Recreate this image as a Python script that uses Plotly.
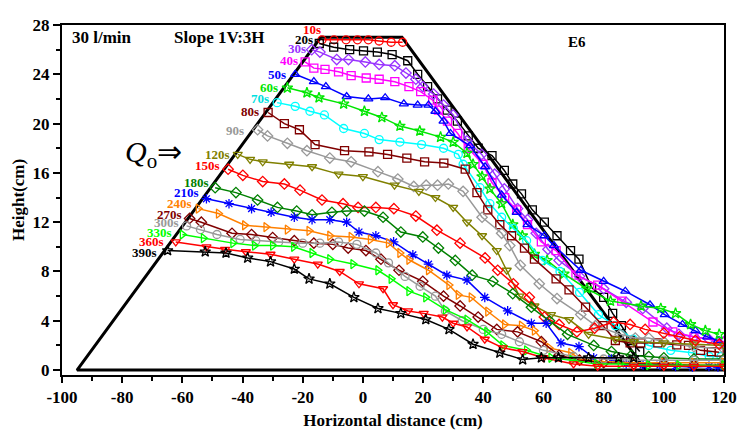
import plotly.graph_objects as go

# ---- embankment outline ----
emb_x = [120, -95, -14, 13, 94]
emb_y = [0, 0, 27, 27, 0]

# ---- profiles ----
x_10s = [-13.6, -9.6, -5.6, -1.8, 1.8, 5.4, 9.4, 13.2]
y_10s = [26.8, 26.8, 26.8, 26.8, 26.8, 26.7, 26.6, 26.6]

x_20s = [-14.5, -9.7, -4.4, 0.2, 4.8, 9.7, 14.9, 18.2, 21.5, 24.8, 28, 31.4, 35, 38.3, 42.9, 47, 49.8, 52.7,
         56.3, 60.3, 64.5, 69, 71.8, 76, 80, 83, 85.9, 89, 92]
y_20s = [26.5, 26.2, 26.0, 25.9, 25.8, 25.6, 25.1, 24.0, 23.0, 22.0, 21.1, 20.2, 19.0, 18.0, 17.4, 16.2, 15.1, 14.3,
         13.0, 12.0, 10.9, 9.7, 9.0, 6.7, 5.9, 4.6, 3.6, 2.4, 1.5]

x_30s = [-17, -14.3, -8.7, -4.8, 0.8, 5.4, 10.6, 14.3, 17.6, 19.9, 23.5, 26.8, 30, 34.6, 39.5, 43.8, 47, 51.4, 54.7,
         57.6, 61.5, 65.2, 72, 80, 87.5, 93, 101, 105, 110, 115, 120]
y_30s = [26.0, 25.8, 25.2, 25.2, 25.0, 24.8, 24.7, 24.1, 23.6, 23.0, 22.4, 21.5, 20.7, 18.6, 17.5, 15.9, 14.7, 13.1,
         12.2, 11.1, 9.8, 8.9, 7.6, 6.6, 5.5, 5.0, 3.4, 2.9, 2.7, 2.5, 2.3]

x_40s = [-19.2, -16.3, -12.6, -8.1, -3.9, 1.1, 5.4, 10.6, 15.3, 19.2, 23.2, 25.1, 28.1, 31.5, 35, 39.9, 42.9, 47.1,
         51.1, 54.7, 59.3, 64.2, 70.8, 78, 86, 96.4, 103, 110, 120]
y_40s = [25.0, 24.5, 24.4, 24.2, 23.9, 23.7, 23.6, 23.4, 23.0, 22.6, 21.9, 21.1, 20.2, 19.2, 18.0, 16.7, 15.2, 14.0,
         13.0, 11.8, 10.4, 9.7, 7.7, 6.9, 5.6, 3.9, 3.1, 2.7, 2.3]

x_50s = [-22.5, -16.3, -12.3, -5.4, 1.8, 7.4, 13.6, 18.2, 21.8, 24.1, 26.8, 29.1, 35.6, 40.6, 46.1, 51.1, 54.7, 60.3,
         63.5, 72.4, 80, 87.2, 95.4, 100.3, 106.2, 110.5, 114.4, 118]
y_50s = [24.0, 23.4, 23.0, 22.2, 22.0, 22.1, 21.6, 21.5, 21.5, 21.0, 20.2, 19.2, 18.2, 16.5, 14.2, 12.8, 11.8, 10.9,
         10.1, 8.1, 7.2, 6.4, 5.3, 4.5, 3.7, 3.2, 2.7, 2.4]

x_60s = [-25.1, -18.6, -14.6, -6.4, 0.5, 6.3, 12.3, 18.9, 25.8, 30, 34.6, 36.6, 39.6, 42.2, 46.1, 49.8, 53, 57, 61.2,
         66.8, 74.4, 82.3, 92.4, 99, 103.9, 108.9, 113.8, 118.4]
y_60s = [22.9, 22.5, 22.1, 21.6, 21.0, 20.5, 19.8, 19.4, 18.9, 18.5, 17.6, 16.7, 15.7, 14.7, 13.5, 11.8, 10.9, 9.4, 8.9,
         7.8, 6.6, 5.6, 5.2, 5.0, 4.6, 3.7, 3.2, 2.9]

x_70s = [-28.5, -22.5, -17.6, -12.8, -6.4, 0.5, 5.4, 12.3, 19.5, 26.8, 31.7, 33.3, 38.9, 42.2, 46.1, 50, 54.4, 59.6,
         65.5, 72, 78.3, 83.9, 89.8, 95, 102.3, 109.5, 115.1, 119]
y_70s = [21.7, 21.4, 21.0, 20.7, 19.6, 19.2, 18.7, 18.5, 18.3, 18.0, 17.5, 16.7, 14.8, 13.5, 12.4, 11.5, 10.5, 8.9,
         8.0, 6.3, 4.5, 3.6, 2.5, 2.0, 1.6, 1.4, 1.1, 1.1]

x_80s = [-31.5, -26.1, -21.1, -15.9, -6.1, 2, 8.2, 14.6, 20.5, 26.9, 34, 37.9, 41.5, 45.5, 49.4, 53.7, 57, 64.2, 68.5,
         74, 79.8, 83.9, 88.8, 92.3, 98, 104.3, 108.2, 112.2, 115.8, 118.4]
y_80s = [20.9, 20.0, 19.5, 18.3, 17.8, 17.7, 17.5, 17.2, 16.9, 16.8, 16.3, 14.4, 13.0, 11.8, 10.9, 9.9, 9.0, 7.4, 6.5,
         5.1, 3.6, 2.4, 2.2, 2.2, 2.2, 2.05, 2.0, 1.6, 1.5, 1.45]

x_90s = [-35, -31.7, -25.1, -18.6, -11, -3.9, 5, 11.6, 16.9, 21, 24.8, 28.4, 33.3, 39.6, 46.1, 48.8, 52.3, 58.6, 64.5,
         72.4, 77.3, 85.5, 90.5, 95, 100, 110, 120]
y_90s = [19.5, 19.0, 18.4, 17.8, 17.2, 16.9, 16.1, 15.5, 14.9, 15.0, 15.0, 15.1, 14.5, 12.4, 11.1, 10.1, 8.5, 7.0, 5.8,
         4.5, 3.6, 2.9, 2.6, 2.6, 2.3, 1.9, 1.7]

x_120s = [-41.6, -37.5, -33.3, -24.5, -16.9, -8.1, 0, 10.5, 18.6, 24.1, 30, 34.6, 39.6, 44.5, 47.8, 52, 57, 62.5, 68.5,
          75, 83.9, 90, 100, 110, 120]
y_120s = [17.5, 17.1, 16.9, 16.7, 16.5, 15.9, 15.7, 15.0, 14.5, 14.0, 13.2, 12.0, 10.9, 9.7, 8.1, 6.0, 5.2, 4.5, 4.1,
          2.9, 2.5, 2.3, 2.2, 2.1, 2.0]

x_150s = [-44.8, -39.9, -33.3, -26.1, -20.9, -13.6, -6.6, -1.6, 4.3, 10.3, 17.6, 24.6, 32.3, 40.6, 44.8, 50, 55.3,
          60.3, 65.2, 71.1, 77, 83.3, 88.8, 93.8, 100, 105.2, 110.5, 118.4]
y_150s = [16.3, 15.8, 15.3, 15.1, 14.6, 13.8, 13.5, 13.2, 13.2, 13.1, 12.5, 11.35, 10.3, 9.1, 8.1, 7.0, 5.9, 4.3, 3.7,
          3.1, 3.4, 3.9, 3.7, 3.3, 3.0, 2.7, 2.4, 2.1]

x_180s = [-49.1, -42.2, -35, -28.4, -22, -16.9, -10.3, -5.4, 0.5, 6.7, 12.6, 19.9, 25.1, 30.7, 36.3, 43.2, 49.8, 56,
          62, 68, 76.7, 82.6, 89.2, 95, 100, 110, 120]
y_180s = [14.8, 14.4, 13.8, 13.2, 12.9, 12.6, 12.8, 12.9, 12.9, 12.4, 11.2, 10.8, 9.9, 8.9, 7.7, 7.2, 6.2, 5.1, 4.0,
          2.9, 2.0, 1.5, 1.2, 1.1, 1.0, 0.9, 0.9]

x_210s = [-52, -44.5, -37, -30.5, -22.8, -16.9, -11, -5.4, -1.3, 4.3, 10.2, 16.6, 21.8, 27.9, 34.6, 40.5, 48.1, 56,
          60.9, 65.8, 71.8, 76.7, 82.6, 87.5, 93.1, 98.7, 103.9, 109.5, 115, 118]
y_210s = [13.9, 13.5, 13.1, 12.8, 12.4, 12.2, 12.2, 12.0, 11.2, 10.9, 10.4, 9.35, 8.6, 7.7, 7.3, 5.9, 4.8, 3.8, 3.8,
          2.2, 1.9, 1.0, 0.9, 0.5, 0.4, 0.4, 0.3, 0.25, 0.3, 0.25]

x_240s = [-54.7, -48, -39.3, -32.2, -25.1, -17.9, -11, -3.9, 2.5, 8.5, 12.3, 15.3, 21.8, 28.6, 31.7, 36, 41.5, 47.1,
          52.7, 57, 61.9, 69.1, 72.4, 80, 90, 100, 110, 120]
y_240s = [13.1, 12.7, 11.75, 11.6, 11.4, 11.3, 10.9, 10.8, 10.6, 10.3, 9.5, 8.95, 8.1, 6.9, 6.1, 5.9, 4.75, 3.7, 3.6,
          3.2, 1.8, 1.4, 0.85, 0.7, 0.6, 0.6, 0.6, 0.6]

x_270s = [-57.6, -53.7, -43.5, -37, -30, -22.8, -16.3, -10, -4.9, 1, 6, 12, 19.9, 26.8, 32.3, 38.3, 44.5, 51.4, 59.3,
          65.2, 72, 80, 90, 100, 110, 120]
y_270s = [12.3, 12.0, 11.1, 11.0, 10.75, 10.5, 10.3, 10.2, 9.9, 9.7, 9.0, 8.1, 7.2, 6.0, 5.2, 4.3, 3.3, 3.1, 2.3, 1.2,
          0.8, 0.6, 0.5, 0.5, 0.4, 0.4]

x_300s = [-58.6, -54, -48.5, -40.8, -35.6, -28, -20, -14.3, -8.1, -2, 4.3, 8.5, 14, 19, 24.1, 27.4, 33, 40, 46.1, 52,
          60, 70, 80, 90, 100, 110, 120]
y_300s = [11.7, 11.4, 11.0, 10.6, 10.5, 10.4, 10.3, 10.3, 10.4, 10.2, 9.5, 8.7, 7.6, 6.8, 6.0, 4.8, 4.0, 3.3, 2.9, 2.3,
          1.6, 1.1, 0.9, 0.8, 0.8, 0.8, 0.8]

x_330s = [-60, -53, -43.2, -36, -30, -23, -16.9, -11, -3.3, 5, 9.4, 15.3, 20.9, 27.4, 34.6, 41.2, 46.5, 54.4, 62.5,
          69.5, 77.7, 85.5, 95, 105, 120]
y_330s = [11.0, 10.7, 10.3, 10.1, 10.1, 10.0, 9.5, 9.0, 8.6, 8.1, 7.4, 6.4, 5.9, 4.9, 4.1, 3.1, 2.0, 1.6, 1.0, 0.8,
          0.5, 0.5, 0.4, 0.4, 0.4]

x_360s = [-62.2, -52, -45.8, -38.9, -30.7, -22.8, -15, -7.7, -1.3, 6.7, 10, 15, 20.2, 26.4, 30, 34.6, 40.5, 46.5, 53,
          60, 70, 78, 90, 100, 110, 120]
y_360s = [10.4, 10.0, 9.8, 9.6, 9.4, 9.0, 8.6, 8.0, 7.0, 6.6, 5.3, 4.8, 4.6, 4.3, 3.8, 3.5, 2.5, 1.8, 1.5, 1.0, 0.5,
          0.3, 0.3, 0.3, 0.3, 0.3]

x_390s = [-64.9, -52.4, -45.5, -38.3, -30.7, -22.8, -17.9, -11, -3, 5, 12.6, 20.9, 28.6, 36.6, 45.5, 53.1, 59.3, 65,
          75, 85, 90]
y_390s = [9.7, 9.6, 9.5, 9.1, 8.8, 8.2, 7.4, 7.0, 5.9, 5.0, 4.6, 4.1, 3.3, 2.1, 1.4, 0.85, 1.0, 1.0, 1.0, 1.0, 1.0]

times = ["10s", "20s", "30s", "40s", "50s", "60s", "70s", "80s", "90s", "120s", "150s", "180s", "210s", "240s",
         "270s", "300s", "330s", "360s", "390s"]
xs = [x_10s, x_20s, x_30s, x_40s, x_50s, x_60s, x_70s, x_80s, x_90s, x_120s, x_150s, x_180s, x_210s, x_240s,
      x_270s, x_300s, x_330s, x_360s, x_390s]
ys = [y_10s, y_20s, y_30s, y_40s, y_50s, y_60s, y_70s, y_80s, y_90s, y_120s, y_150s, y_180s, y_210s, y_240s,
      y_270s, y_300s, y_330s, y_360s, y_390s]
colors = ["#ff0000", "#000000", "#9933ff", "#ff00ff", "#0000ff", "#00e600", "#00ffff", "#800000", "#999999",
          "#808000", "#ff0000", "#008000", "#0000ff", "#ff8000", "#800000", "#999999", "#00ff00", "#ff0000", "#000000"]
symbols = ["circle-open", "square-open", "diamond-open", "square-open", "triangle-up-open", "star-open",
           "circle-open", "square-open", "diamond-open", "triangle-down-open", "diamond-open", "diamond-open",
           "asterisk-open", "triangle-right-open", "diamond-open", "circle-open", "triangle-right-open",
           "triangle-down-open", "star-open"]
# label anchors (right edge x, centre y)
label_x = [-13.4, -15.8, -18.2, -20.8, -24.8, -27.4, -30.7, -34.0, -38.9, -43.6, -46.9, -50.5, -53.8, -56.1,
           -59.4, -60.4, -62.7, -65.3, -67.7]
label_y = [27.6, 26.8, 26.1, 25.1, 24.0, 22.9, 22.0, 21.0, 19.4, 17.5, 16.6, 15.2, 14.4, 13.5, 12.6, 12.0, 11.2,
           10.4, 9.5]
label_colors = ["#ff0000", "#000000", "#9933ff", "#ff00ff", "#0000ff", "#00e600", "#00e0e0", "#800000", "#999999",
                "#808000", "#ff0000", "#008000", "#0000ff", "#ff8000", "#800000", "#999999", "#00ff00", "#ff0000",
                "#000000"]

SERIF = "Liberation Serif, Times New Roman, serif"

fig = go.Figure()
fig.add_trace(go.Scatter(x=emb_x, y=emb_y, mode="lines", line=dict(color="black", width=3),
                         showlegend=False, hoverinfo="skip"))

for i in range(len(times)):
    fig.add_trace(go.Scatter(
        x=xs[i], y=ys[i], mode="lines+markers", name=times[i],
        line=dict(color=colors[i], width=1.5),
        marker=dict(symbol=symbols[i], size=8, color=colors[i],
                    line=dict(color=colors[i], width=1.3)),
        showlegend=False))

annotations = []
for i in range(len(times)):
    annotations.append(dict(x=label_x[i], y=label_y[i], text="<b>%s</b>" % times[i], showarrow=False,
                            xanchor="right", yanchor="middle",
                            font=dict(family=SERIF, size=13, color=label_colors[i])))

annotations += [
    dict(x=-97.5, y=27.0, text="<b>30 l/min</b>", showarrow=False, xanchor="left", yanchor="middle",
         font=dict(family=SERIF, size=17, color="black")),
    dict(x=-63.5, y=27.0, text="<b>Slope 1V:3H</b>", showarrow=False, xanchor="left", yanchor="middle",
         font=dict(family=SERIF, size=17, color="black")),
    dict(x=71, y=26.6, text="<b>E6</b>", showarrow=False, xanchor="center", yanchor="middle",
         font=dict(family=SERIF, size=15, color="black")),
    dict(x=-69.5, y=17.5, text="<i>Q</i><sub>o</sub>⇒", showarrow=False, xanchor="center", yanchor="middle",
         font=dict(family=SERIF, size=30, color="black")),
]

# the page body has an 8px margin: offsets compensate so the plot lands where the reference has it
fig.update_layout(
    width=737, height=427,
    margin=dict(l=54, r=17, t=8, b=52),
    paper_bgcolor="white", plot_bgcolor="white",
    showlegend=False,
    annotations=annotations,
    font=dict(family=SERIF, color="black"),
)
fig.update_xaxes(
    range=[-100, 120], tickvals=list(range(-100, 121, 20)),
    ticktext=["<b>%d</b>" % v for v in range(-100, 121, 20)],
    ticks="outside", ticklen=6, tickwidth=2, tickcolor="black",
    minor=dict(dtick=10, tick0=-100, ticks="outside", ticklen=4, tickwidth=1.5, tickcolor="black"),
    showline=True, linewidth=2, linecolor="black", mirror=True,
    showgrid=False, zeroline=False,
    tickfont=dict(family=SERIF, size=17, color="black"),
    title=dict(text="<b>Horizontal distance (cm)</b>", font=dict(family=SERIF, size=17, color="black"), standoff=8),
)
fig.update_yaxes(
    range=[-0.4, 28], tickvals=list(range(0, 29, 4)),
    ticktext=["<b>%d</b>" % v for v in range(0, 29, 4)],
    ticks="outside", ticklen=7, tickwidth=2, tickcolor="black",
    minor=dict(dtick=2, tick0=0, ticks="outside", ticklen=4, tickwidth=1.5, tickcolor="black"),
    showline=True, linewidth=2, linecolor="black", mirror=True,
    showgrid=False, zeroline=False,
    tickfont=dict(family=SERIF, size=17, color="black"),
    title=dict(text="<b>Height(cm)</b>", font=dict(family=SERIF, size=17, color="black"), standoff=4),
)

fig.write_html("out.html")
